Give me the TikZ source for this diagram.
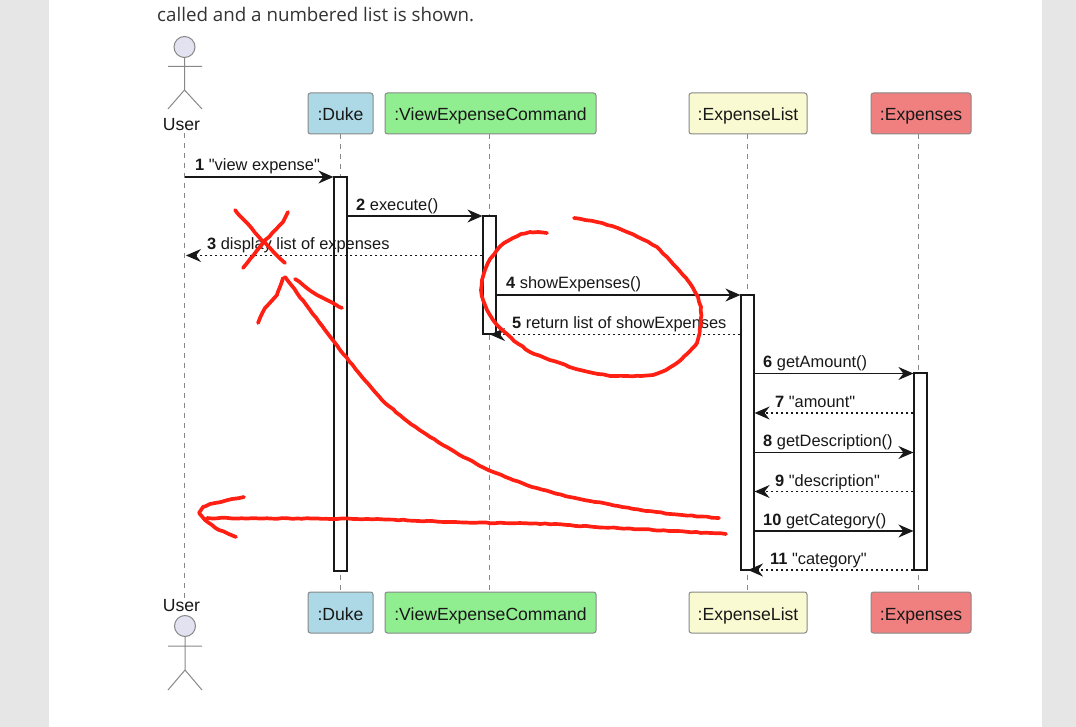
\documentclass[tikz,border=0pt]{standalone}
\usepackage{fontspec}
\newfontfamily\seqfont{Liberation Sans}
\newfontfamily\pagefont{Open Sans}
\usepackage{tikz}
\usetikzlibrary{arrows.meta,positioning,decorations.pathmorphing}
\definecolor{pagegrey}{HTML}{E6E6E6}
\definecolor{pagetext}{HTML}{333333}
\definecolor{seqgrey}{HTML}{888888}
\definecolor{seqink}{HTML}{181818}
\definecolor{actorfill}{HTML}{E2E2F0}
\definecolor{dukeblue}{HTML}{ADD8E6}
\definecolor{cmdgreen}{HTML}{90EE90}
\definecolor{listyellow}{HTML}{FAFAD2}
\definecolor{expred}{HTML}{F08080}
\definecolor{penred}{HTML}{FF2013}

\begin{document}
\begin{tikzpicture}[x=1pt,y=-1pt,
    headbox/.style={draw=seqgrey,line width=1pt,rounded corners=2.5pt,minimum height=41pt,inner sep=0pt,text=seqink,text height=19pt,text depth=4pt,font=\seqfont\fontsize{17.6}{20}\selectfont},
    actorname/.style={inner sep=0pt,text=seqink,font=\seqfont\fontsize{17.6}{20}\selectfont},
    actorhead/.style={circle,draw=seqgrey,fill=actorfill,line width=1pt,minimum size=21pt,inner sep=0pt},
    actorline/.style={draw=seqgrey,line width=1pt},
    lifeline/.style={draw=seqgrey,line width=1pt,dash pattern=on 5pt off 5pt},
    bar/.style={draw=seqink,fill=white,line width=1.2pt,minimum width=13pt,inner sep=0pt},
    msg/.style={draw=seqink,line width=1.1pt,-{Stealth[length=15pt,width=13pt,inset=5pt]}},
    reply/.style={msg,dash pattern=on 2.5pt off 2.5pt},
    msglabel/.style={anchor=base west,inner sep=0pt,text=seqink,font=\seqfont\fontsize{16.4}{18}\selectfont},
    scribble/.style={draw=penred,line width=3.7pt,line cap=round,line join=round,decorate,decoration={random steps,segment length=5pt,amplitude=0.45pt}}]
    \useasboundingbox (0,0) rectangle (1076,727);
    \fill[white] (0,0) rectangle (1076,727);
    \fill[pagegrey] (0,0) rectangle (49,727);
    \fill[pagegrey] (1042,0) rectangle (1076,727);

    \node[anchor=base west,inner sep=0pt,text=pagetext,font=\pagefont\fontsize{18.75}{20}\selectfont](intro) at (157,22) {called and a numbered list is shown.};

    % participants
    \node[headbox,fill=dukeblue,minimum width=65pt](dukeT) at (340.5,113.5) {:Duke};
    \node[headbox,fill=cmdgreen,minimum width=211pt](cmdT) at (490.5,113.5) {:ViewExpenseCommand};
    \node[headbox,fill=listyellow,minimum width=118pt](listT) at (748,113.5) {:ExpenseList};
    \node[headbox,fill=expred,minimum width=100pt](expT) at (921,113.5) {:Expenses};
    \node[headbox,fill=dukeblue,minimum width=65pt](dukeB) at (340.5,612.5) {:Duke};
    \node[headbox,fill=cmdgreen,minimum width=211pt](cmdB) at (490.5,612.5) {:ViewExpenseCommand};
    \node[headbox,fill=listyellow,minimum width=118pt](listB) at (748,612.5) {:ExpenseList};
    \node[headbox,fill=expred,minimum width=100pt](expB) at (921,612.5) {:Expenses};

    % actor, top and bottom
    \node[actorhead](headT) at (184.5,47) {};
    \node[actorname,anchor=base](userT) at (181.5,130.5) {User};
    \coordinate(hipT) at (184.5,90);
    \draw[actorline] (headT) -- (hipT) -- (168,109) (hipT) -- (202,109) (168,66.5) -- (202,66.5);
    \node[actorhead](headB) at (185,626) {};
    \node[actorname,anchor=base](userB) at (181.5,611) {User};
    \coordinate(hipB) at (185,670);
    \draw[actorline] (headB) -- (hipB) -- (168,690) (hipB) -- (202,690) (168,646) -- (202,646);

    % lifelines
    \draw[lifeline] (headT |- userT.south) ++(0,2) -- (headT |- userB.north);
    \draw[lifeline] (dukeT) -- (dukeB);
    \draw[lifeline] (cmdT.south -| 489.5,0) -- (cmdB.north -| 489.5,0);
    \draw[lifeline] (listT.south -| 747,0) -- (listB.north -| 747,0);
    \draw[lifeline] (expT.south -| 918.5,0) -- (expB.north -| 918.5,0);

    % activation bars
    \node[bar,minimum height=394pt](dukeBar) at (340.5,374) {};
    \node[bar,minimum height=118pt](cmdBar) at (489.5,275) {};
    \node[bar,minimum height=275pt](listBar) at (747.5,432.5) {};
    \node[bar,minimum height=197pt](expBar) at (920.5,471.5) {};

    % messages
    \draw[msg] (headT |- 0,177) -- (dukeBar.west |- 0,177);
    \draw[msg] (dukeBar.east |- 0,216) -- (cmdBar.west |- 0,216);
    \draw[reply] (cmdBar.west |- 0,255.5) -- (186,255.5);
    \draw[msg] (cmdBar.east |- 0,295) -- (listBar.west |- 0,295);
    \draw[reply] (listBar.west |- 0,334.5) -- (490,334.5);
    \draw[msg] (listBar.east |- 0,373.5) -- (expBar.west |- 0,373.5);
    \draw[reply] (expBar.west |- 0,413) -- (listBar.east |- 0,413);
    \draw[msg] (listBar.east |- 0,452.5) -- (expBar.west |- 0,452.5);
    \draw[reply] (expBar.west |- 0,491.5) -- (listBar.east |- 0,491.5);
    \draw[msg] (listBar.east |- 0,531) -- (expBar.west |- 0,531);
    \draw[reply] (expBar.west |- 0,570) -- (748,570);

    \node[msglabel](m1) at (195,171) {\textbf{1} "view expense"};
    \node[msglabel](m2) at (356,210.5) {\textbf{2} execute()};
    \node[msglabel](m3) at (207,250) {\textbf{3} display list of expenses};
    \node[msglabel](m4) at (506,289) {\textbf{4} showExpenses()};
    \node[msglabel](m5) at (512,328.5) {\textbf{5} return list of showExpenses};
    \node[msglabel](m6) at (763,367.5) {\textbf{6} getAmount()};
    \node[msglabel](m7) at (775,407) {\textbf{7} "amount"};
    \node[msglabel](m8) at (763,446.5) {\textbf{8} getDescription()};
    \node[msglabel](m9) at (775,486) {\textbf{9} "description"};
    \node[msglabel](m10) at (763,525) {\textbf{10} getCategory()};
    \node[msglabel](m11) at (770,564.5) {\textbf{11} "category"};

    % red pen on top
    \draw[scribble] plot coordinates {(235,210) (245,221) (258,236) (270,248) (285,263)};
    \draw[scribble] plot coordinates {(288,212) (283,222) (263,243) (243,268)};
    \draw[scribble] plot coordinates {(283,278) (277,295) (265,308) (258,323)};
    \draw[scribble] plot coordinates {(295,279) (317,295) (342,308)};
    \draw[scribble] plot coordinates {(285,277) (297,293) (310,310) (325,330) (340,350) (362,377) (385,403) (407,421) (430,437) (455,452) (480,466) (496,473) (513,480) (532,487) (551,492) (570,497) (590,501) (618,506) (646,511) (682,515) (719,518)};
    \draw[scribble] plot coordinates {(726,534) (674,531) (595,527) (555,524) (448,522) (377,519) (207,518)};
    \draw[scribble] plot coordinates {(244,497) (232,499) (221,502) (210,504) (203,507) (199,513) (205,520) (212,525) (219,530) (236,537)};
    \draw[scribble] plot coordinates {(547,233) (538,232) (530,232) (521,234) (513,238) (504,243) (497,250) (490,259) (485,270) (482,280) (481,290) (483,300) (487,310) (493,320) (500,328) (514,341) (530,352) (545,358) (560,363) (576,369) (593,373) (610,376) (627,376) (641,376) (653,375) (666,370) (677,363) (688,353) (697,343) (701,325) (701,307) (698,297) (693,288) (686,278) (677,268) (667,257) (657,247) (642,239) (627,232) (612,226) (597,222) (585,220) (574,218)};
\end{tikzpicture}
\end{document}
